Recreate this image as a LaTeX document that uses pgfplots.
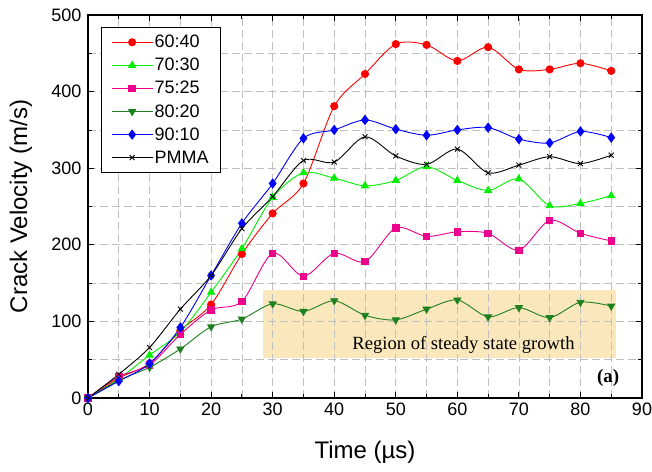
\documentclass[border=0pt]{standalone}
\usepackage{fontspec}
\setmainfont{Liberation Sans}
\newfontfamily\timesfont{Liberation Serif}
\usepackage{pgfplots}
\pgfplotsset{compat=1.18}
\definecolor{regionfill}{RGB}{250,232,188}
\definecolor{dgreen}{RGB}{30,128,30}
\definecolor{lgreen}{RGB}{0,240,0}
\begin{document}
\begin{tikzpicture}
\begin{axis}[
  set layers,
  at={(0,0)}, anchor=south west,
  scale only axis,
  width=554pt, height=383pt,
  xmin=0, xmax=90, ymin=0, ymax=500,
  xtick distance=10, ytick distance=100,
  minor x tick num=1, minor y tick num=1,
  grid=both,
  major grid style={gray!50, dash pattern=on 8pt off 4pt, line width=0.7pt},
  minor grid style={gray!50, dash pattern=on 8pt off 4pt, line width=0.7pt},
  tick align=inside,
  major tick length=6pt, minor tick length=4pt,
  tick style={black, line width=0.8pt},
  axis line style={black, line width=1.2pt},
  /pgf/number format/assume math mode=true,
  tick label style={font=\fontsize{18}{20}\selectfont},
  yticklabel style={xshift=-3pt},
  xticklabel style={yshift=-1pt},
  xlabel={Time (µs)}, ylabel={Crack Velocity (m/s)},
  every axis x label/.style={at={(axis description cs:0.5,-0.141)}, anchor=center, font=\fontsize{24}{26}\selectfont},
  every axis y label/.style={at={(axis description cs:-0.121,0.5)}, rotate=90, anchor=center, font=\fontsize{24}{26}\selectfont},
  legend style={at={(0.024,0.969)}, anchor=north west, draw=black, line width=0.8pt,
    font=\fontsize{18}{20}\selectfont, row sep=5pt, inner xsep=10pt, inner ysep=6pt},
  legend cell align=left,
  legend image code/.code={\draw[#1] (0pt,0pt) -- (20pt,0pt); \draw[#1, mark repeat=2, mark phase=2] plot coordinates {(0pt,0pt) (20pt,0pt) (40pt,0pt)}; \draw[#1] (20pt,0pt) -- (40pt,0pt);},
  every axis plot/.append style={line width=0.9pt, smooth},
]
\begin{pgfonlayer}{axis background}
\fill[regionfill] (axis cs:28.4,52) rectangle (axis cs:85.8,141);
\end{pgfonlayer}
\addplot[red, mark=*, mark size=3.6pt] coordinates {(0,0)(5,26)(10,45)(15,88)(20,122)(25,188)(30,241)(35,280)(40,381)(45,423)(50,462)(55,461)(60,440)(65,458)(70,429)(75,429)(80,437)(85,427)};
\addlegendentry{60:40}
\addplot[lgreen, mark=triangle*, mark size=4pt] coordinates {(0,0)(5,25)(10,56)(15,86)(20,138)(25,195)(30,262)(35,294)(40,287)(45,277)(50,284)(55,302)(60,284)(65,271)(70,286)(75,251)(80,254)(85,264)};
\addlegendentry{70:30}
\addplot[magenta, mark=square*, mark size=3.2pt] coordinates {(0,0)(5,28)(10,43)(15,83)(20,115)(25,126)(30,189)(35,159)(40,189)(45,178)(50,222)(55,211)(60,217)(65,215)(70,193)(75,232)(80,215)(85,205)};
\addlegendentry{75:25}
\addplot[dgreen, mark=triangle*, mark options={rotate=180}, mark size=4pt] coordinates {(0,0)(5,23)(10,40)(15,64)(20,93)(25,103)(30,123)(35,113)(40,127)(45,108)(50,102)(55,116)(60,128)(65,106)(70,118)(75,105)(80,125)(85,120)};
\addlegendentry{80:20}
\addplot[blue, mark=diamond*, mark size=4.5pt] coordinates {(0,0)(5,22)(10,45)(15,92)(20,160)(25,228)(30,280)(35,339)(40,350)(45,363)(50,351)(55,343)(60,350)(65,353)(70,338)(75,333)(80,348)(85,340)};
\addlegendentry{90:10}
\addplot[black, mark=x, mark size=3.5pt] coordinates {(0,0)(5,31)(10,66)(15,116)(20,160)(25,221)(30,263)(35,310)(40,308)(45,341)(50,316)(55,305)(60,325)(65,294)(70,304)(75,315)(80,306)(85,317)};
\addlegendentry{PMMA}
\node[font=\timesfont\fontsize{18.6}{20}\selectfont] at (axis cs:61,69) {Region of steady state growth};
\node[font=\timesfont\bfseries\fontsize{19}{20}\selectfont] at (axis cs:84.5,26) {(a)};
\end{axis}
\pgfresetboundingbox
\useasboundingbox (-88pt,-73pt) rectangle (564pt,398pt);
\end{tikzpicture}
\end{document}
